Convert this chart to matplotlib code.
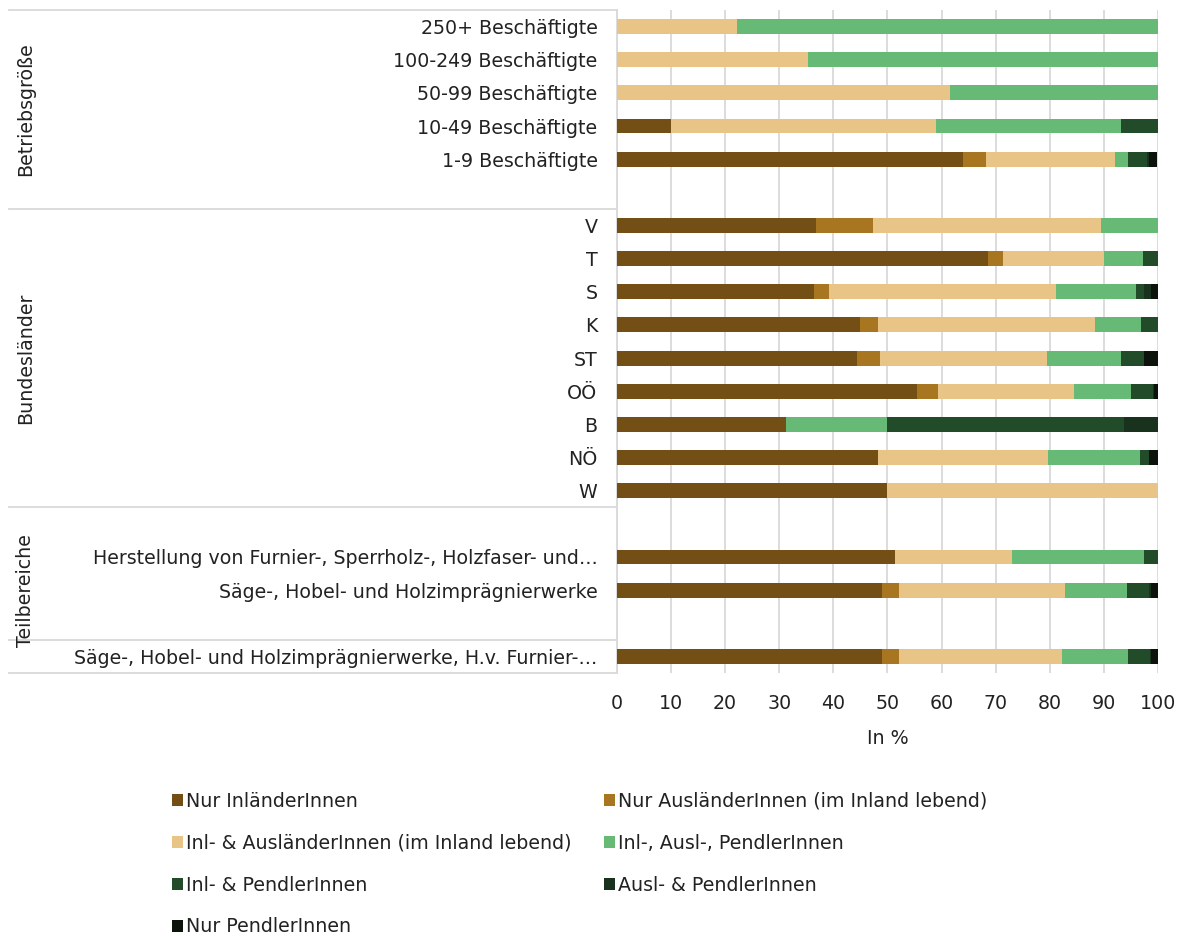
import matplotlib
matplotlib.use("Agg")
import matplotlib.pyplot as plt
import matplotlib.transforms as mtransforms
from matplotlib.patches import Patch
import numpy as np

plt.rcParams["font.family"] = ["DejaVu Sans"]

# categories top to bottom, "" marks an empty slot
categories = [
    "250+ Beschäftigte", "100-249 Beschäftigte", "50-99 Beschäftigte",
    "10-49 Beschäftigte", "1-9 Beschäftigte", "",
    "V", "T", "S", "K", "ST", "OÖ", "B", "NÖ", "W", "",
    "Herstellung von Furnier-, Sperrholz-, Holzfaser- und…",
    "Säge-, Hobel- und Holzimprägnierwerke", "",
    "Säge-, Hobel- und Holzimprägnierwerke, H.v. Furnier-…",
]

series_names = [
    "Nur InländerInnen",
    "Nur AusländerInnen (im Inland lebend)",
    "Inl- & AusländerInnen (im Inland lebend)",
    "Inl-, Ausl-, PendlerInnen",
    "Inl- & PendlerInnen",
    "Ausl- & PendlerInnen",
    "Nur PendlerInnen",
]

nur_inl = [0, 0, 0, 9.9, 64.0, 0,
           36.8, 68.6, 36.4, 45.0, 44.3, 55.5, 31.2, 48.2, 50.0, 0,
           51.4, 49.0, 0, 49.0]
nur_ausl = [0, 0, 0, 0, 4.2, 0,
            10.5, 2.8, 2.8, 3.2, 4.3, 3.8, 0, 0, 0, 0,
            0, 3.1, 0, 3.1]
inl_ausl = [22.1, 35.3, 61.5, 49.0, 23.9, 0,
            42.2, 18.7, 42.0, 40.2, 30.9, 25.2, 0, 31.5, 50.0, 0,
            21.7, 30.7, 0, 30.2]
inl_ausl_pend = [77.9, 64.7, 38.5, 34.2, 2.4, 0,
                 10.5, 7.1, 14.8, 8.4, 13.7, 10.5, 18.8, 17.0, 0, 0,
                 24.3, 11.5, 0, 12.2]
inl_pend = [0, 0, 0, 6.9, 3.4, 0,
            0, 2.8, 1.4, 3.2, 4.3, 4.0, 43.8, 1.7, 0, 0,
            2.6, 4.1, 0, 4.0]
ausl_pend = [0, 0, 0, 0, 0.5, 0,
             0, 0, 1.3, 0, 0, 0.3, 6.2, 0, 0, 0,
             0, 0.4, 0, 0.3]
nur_pend = [0, 0, 0, 0, 1.5, 0,
            0, 0, 1.3, 0, 2.5, 0.7, 0, 1.6, 0, 0,
            0, 1.2, 0, 1.2]

groups = ["Betriebsgröße", "Bundesländer", "Teilbereiche"]

colors = ["#734F16", "#A87620", "#E8C486", "#67BA76",
          "#224B29", "#18321E", "#0C130A"]

FS = 13.7
TXT = "#222222"

fig = plt.figure(figsize=(11.81, 9.36), dpi=100)
ax = fig.add_axes([0.5224, 0.281, 0.4581, 0.7083])

y = np.arange(len(categories))
left = np.zeros(len(categories))
all_series = [nur_inl, nur_ausl, inl_ausl, inl_ausl_pend, inl_pend, ausl_pend, nur_pend]
for vals, col in zip(all_series, colors):
    ax.barh(y, vals, left=left, height=0.45, color=col, edgecolor="none", zorder=3)
    left += np.array(vals)

ax.set_ylim(len(categories) - 0.5, -0.5)
ax.set_xlim(0, 100)
ax.set_xticks(range(0, 101, 10))
ax.set_yticks(y)
ax.set_yticklabels(categories, fontsize=FS, color=TXT)
ax.tick_params(axis="y", length=0, pad=14)
ax.tick_params(axis="x", length=0, pad=15, labelsize=FS, colors=TXT)
ax.grid(axis="x", color="#D9D9D9", linewidth=1.3, zorder=0)
for s in ["top", "right", "bottom"]:
    ax.spines[s].set_visible(False)
ax.spines["left"].set_color("#D9D9D9")
ax.spines["left"].set_linewidth(1.3)
ax.set_xlabel("In %", fontsize=FS, color=TXT, labelpad=12)

# group separators and labels
trans = mtransforms.blended_transform_factory(fig.transFigure, ax.transData)
x0 = 9 / 1181
x1 = 0.5224
for yy in [-0.5, 5.5, 14.5, 18.5, 19.5]:
    ax.plot([x0, x1], [yy, yy], transform=trans, color="#D9D9D9",
            linewidth=1.3, clip_on=False)
group_mid = [2.5, 10.0, 17.0]
for name, ym in zip(groups, group_mid):
    ax.text(26 / 1181, ym, name, transform=trans, rotation=90,
            ha="center", va="center", fontsize=FS, color=TXT)

handles = [Patch(facecolor=c, edgecolor="none") for c in colors]
order = [0, 2, 4, 6, 1, 3, 5]
fig.legend([handles[i] for i in order], [series_names[i] for i in order],
           ncol=2, loc="upper left", bbox_to_anchor=(0.1456, 0.154),
           borderpad=0, borderaxespad=0,
           frameon=False, fontsize=FS, handlelength=0.6, handleheight=0.6,
           handletextpad=0.15, columnspacing=1.7, labelspacing=1.2,
           labelcolor=TXT)

fig.savefig("out.png", dpi=100)
